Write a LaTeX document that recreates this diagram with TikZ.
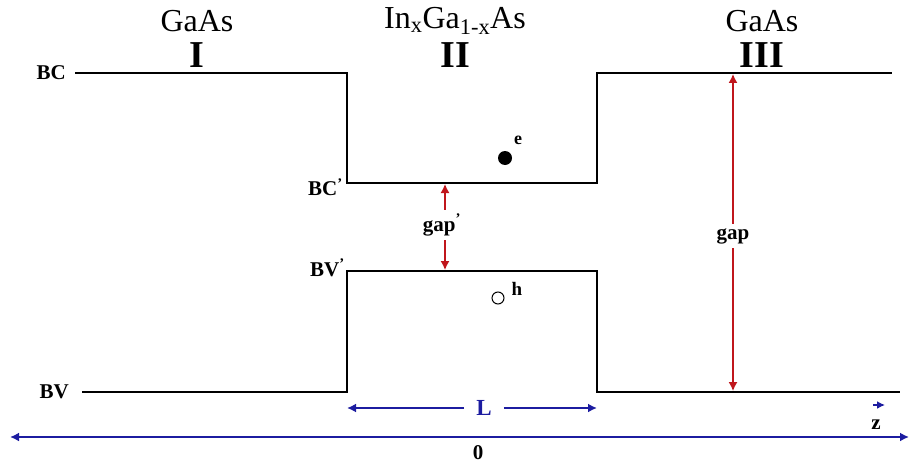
\documentclass[tikz,border=0pt]{standalone}
\usepackage{fontspec}
\setmainfont{Liberation Serif}
\usetikzlibrary{arrows.meta}
\definecolor{gapred}{HTML}{C0161C}
\definecolor{axblue}{HTML}{1C1CA0}
\tikzset{
  band/.style={draw=black, line width=1.8pt},
  redarrow/.style={draw=gapred, line width=1.4pt, {Latex[length=9pt,width=9pt]}-{Latex[length=9pt,width=9pt]}},
  bluearrow/.style={draw=axblue, line width=1.8pt},
  lbl/.style={font=\bfseries\fontsize{21}{21}\selectfont, inner sep=1pt},
  mat/.style={font=\fontsize{32}{32}\selectfont, inner sep=0pt},
  roman/.style={font=\bfseries\fontsize{38}{38}\selectfont, inner sep=0pt},
}
\begin{document}
\begin{tikzpicture}[x=1pt,y=-1pt]
\useasboundingbox (0,0) rectangle (909,468);
% corners of conduction band
\coordinate (bc0) at (75,73);
\coordinate (bc1) at (347,73);
\coordinate (bc2) at (347,183);
\coordinate (bc3) at (597,183);
\coordinate (bc4) at (597,73);
\coordinate (bc5) at (892,73);
% corners of valence band
\coordinate (bv0) at (82,392);
\coordinate (bv1) at (347,392);
\coordinate (bv2) at (347,271);
\coordinate (bv3) at (597,271);
\coordinate (bv4) at (597,392);
\coordinate (bv5) at (900,392);
\draw[band] (bc0) -- (bc1) -- (bc2) -- (bc3) -- (bc4) -- (bc5);
\draw[band] (bv0) -- (bv1) -- (bv2) -- (bv3) -- (bv4) -- (bv5);
% labels
\node[lbl, anchor=east] (lbc) at (67,73) {BC};
\node[lbl, anchor=east] (lbv) at (70,392) {BV};
\node[lbl, anchor=east] (lbcp) at (344,187) {BC\textsuperscript{'}};
\node[lbl, anchor=east] (lbvp) at (346,268) {BV\textsuperscript{'}};
% materials
\node[mat] (m1) at (197,21) {GaAs};
\node[roman] (r1) at (197,55) {I};
\node[mat] (m2) at (455,21) {In\textsubscript{x}Ga\textsubscript{1-x}As};
\node[roman] (r2) at (455,55) {II};
\node[mat] (m3) at (762,21) {GaAs};
\node[roman] (r3) at (762,55) {III};
% gaps
\coordinate (gt) at (733,74);
\coordinate (gb) at (733,391);
\draw[redarrow] (gt) -- (gb);
\node[lbl, fill=white, inner ysep=4pt] (lgap) at (733,236) {gap};
\coordinate (gpt) at (445,184);
\coordinate (gpb) at (445,270);
\draw[redarrow] (gpt) -- (gpb);
\node[lbl, fill=white, inner ysep=4pt] (lgapp) at (442,225) {gap\textsuperscript{'}};
% carriers
\node[circle, fill=black, minimum size=14pt, inner sep=0pt] (el) at (505,158) {};
\node[lbl, font=\bfseries\fontsize{18}{18}\selectfont] (le) at (518,140) {e};
\node[circle, draw=black, line width=1pt, minimum size=12pt, inner sep=0pt] (ho) at (498,298) {};
\node[lbl, font=\bfseries\fontsize{19}{19}\selectfont] (lh) at (517,289) {h};
% L arrow
\coordinate (la) at (347,408);
\coordinate (lb) at (597,408);
\node[lbl, text=axblue, font=\bfseries\fontsize{23}{23}\selectfont, inner xsep=12pt] (lL) at (484,408) {L};
\draw[bluearrow, -{Latex[length=9pt,width=9pt]}] (lL.west) -- (la);
\draw[bluearrow, -{Latex[length=9pt,width=9pt]}] (lL.east) -- (lb);
% z arrow
\coordinate (za) at (873,405);
\coordinate (zb) at (885,405);
\draw[bluearrow, -{Latex[length=8pt,width=8pt]}] (za) -- (zb);
\node[lbl] (lz) at (876,425) {z};
% axis
\coordinate (ax0) at (10,437);
\coordinate (ax1) at (909,437);
\draw[bluearrow, {Latex[length=9pt,width=9pt]}-{Latex[length=9pt,width=9pt]}] (ax0) -- (ax1);
\node[lbl] (l0) at (478,453) {0};
\end{tikzpicture}
\end{document}
